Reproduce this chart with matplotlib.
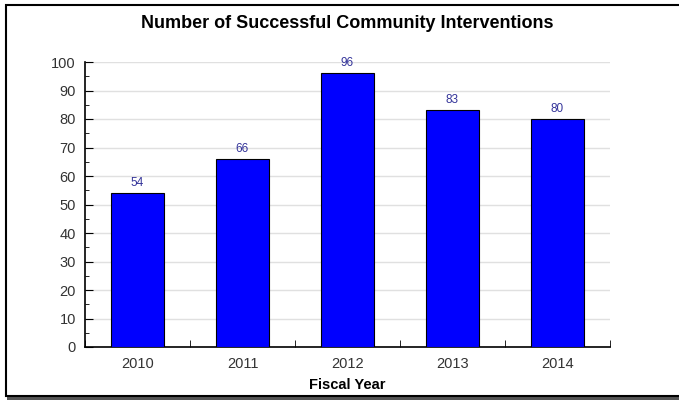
import numpy as np
import matplotlib.pyplot as plt
from matplotlib.patches import Rectangle
from matplotlib.ticker import MultipleLocator

years = ["2010", "2011", "2012", "2013", "2014"]
counts = [54, 66, 96, 83, 80]

plt.rcParams['font.family'] = ['Liberation Sans', 'DejaVu Sans']

fig = plt.figure(figsize=(6.79, 4.0), dpi=100)
W, H = 679, 400

# frame with shadow
fig.patches.append(Rectangle((7 / W, 0), 1, 3 / H, transform=fig.transFigure,
                             facecolor='#555555', edgecolor='none', zorder=0))
fig.patches.append(Rectangle((5.5 / W, 1 - 396 / H), 1, (396 - 4.5) / H,
                             transform=fig.transFigure, facecolor='white',
                             edgecolor='black', linewidth=1.5, zorder=1))

ax = fig.add_axes([85 / W, 1 - 347 / H, (610 - 85) / W, (347 - 62) / H])
ax.set_zorder(2)
ax.patch.set_alpha(0)

x = np.arange(len(years))
ax.bar(x, counts, width=0.5, color='#0000ff', edgecolor='black', linewidth=0.8, zorder=3)
for xi, v in zip(x, counts):
    ax.text(xi, v + 1.5, str(v), ha='center', va='bottom', fontsize=8.5, color='#333399')

ax.set_xlim(-0.5, len(years) - 0.5)
ax.set_ylim(0, 100)
ax.yaxis.set_major_locator(MultipleLocator(10))
ax.yaxis.set_minor_locator(MultipleLocator(5))
ax.grid(axis='y', which='major', color='#e0e0e0', linewidth=1, zorder=0)
ax.set_axisbelow(True)

ax.set_xticks(x)
ax.set_xticklabels(years)
ax.set_xticks(np.arange(-0.5, len(years)), minor=True)
ax.tick_params(axis='x', which='major', length=0, labelsize=10.5, colors='#333333', pad=7)
ax.tick_params(axis='x', which='minor', direction='in', length=5, color='black')
ax.tick_params(axis='y', which='major', direction='in', length=6, labelsize=10.5,
               labelcolor='#333333', color='black', pad=6.5)
ax.tick_params(axis='y', which='minor', direction='in', length=3, color='black')

for s in ['top', 'right']:
    ax.spines[s].set_visible(False)
for s in ['left', 'bottom']:
    ax.spines[s].set_linewidth(1.2)

ax.set_xlabel("Fiscal Year", fontsize=10.5, fontweight='bold', labelpad=5)
fig.text(347 / W, 1 - 24 / H, "Number of Successful Community Interventions",
         ha='center', va='center', fontsize=13, fontweight='bold')

fig.savefig("out.png", dpi=100)
